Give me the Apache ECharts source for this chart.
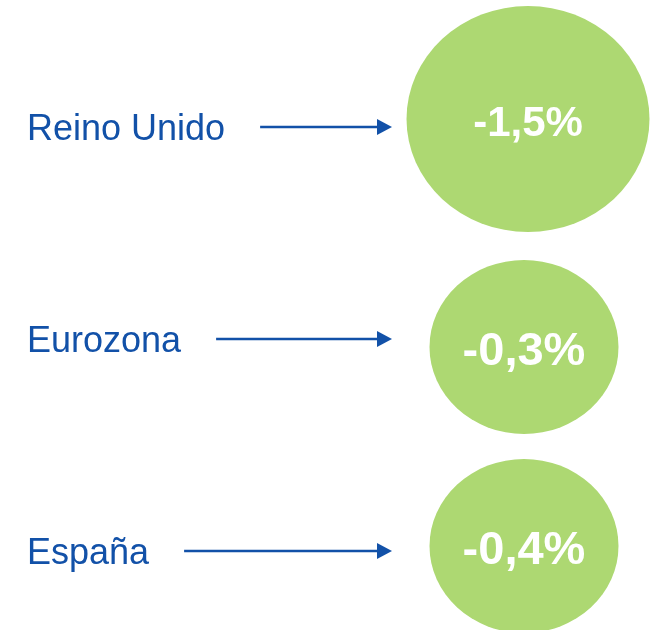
<!DOCTYPE html>
<html>
<head>
<meta charset="utf-8">
<script src="https://cdn.jsdelivr.net/npm/echarts@6/dist/echarts.min.js"></script>
<style>
  html, body { margin: 0; padding: 0; background: #fff; }
  #main { width: 650px; height: 630px; }
</style>
</head>
<body>
<div id="main"></div>
<script>
// regions and their change (%)
var regions = ['Reino Unido', 'Eurozona', 'España'];
var changes = [-1.5, -0.3, -0.4];

var BLUE = '#1251a8';
var GREEN = '#add872';
var FONT_FAMILY = '"Liberation Sans", Arial, sans-serif';
var LABEL_FONT = '36px ' + FONT_FAMILY;

// bubble look per row (size, nudge from the row line, font size)
var bubbleSize = [[243, 226], [189, 174], [189, 174]];
var bubbleNudge = [[2, -8], [-2, 8], [-2, -5]];
var bubbleFont = [42, 47, 47];

function fmt(v) {
    return v.toFixed(1).replace('.', ',') + '%';
}

// text widths, so the arrows start just after the labels
var ctx = document.createElement('canvas').getContext('2d');
ctx.font = LABEL_FONT;

var myChart = echarts.init(document.getElementById('main'));

myChart.setOption({
    animation: false,
    grid: { left: 402, right: 0, top: 127, bottom: 79 },
    xAxis: { type: 'value', min: -1, max: 1, show: false },
    yAxis: {
        type: 'category',
        data: regions,
        inverse: true,
        boundaryGap: false,
        show: false
    },
    series: [
        {
            // region name + arrow to its bubble
            type: 'custom',
            silent: true,
            data: regions.map(function (r, i) { return [0, i]; }),
            renderItem: function (params, api) {
                var y = api.coord([0, api.value(1)])[1];
                var tip = params.coordSys.x - 10;
                var name = regions[params.dataIndex];
                var x0 = 27 + ctx.measureText(name).width + 35;
                return {
                    type: 'group',
                    children: [
                        {
                            type: 'text',
                            x: 27,
                            y: y + 3,
                            style: {
                                text: name,
                                font: LABEL_FONT,
                                fill: BLUE,
                                align: 'left',
                                verticalAlign: 'middle'
                            }
                        },
                        {
                            type: 'line',
                            shape: { x1: x0, y1: y, x2: tip - 12, y2: y },
                            style: { stroke: BLUE, lineWidth: 2.5 }
                        },
                        {
                            type: 'polygon',
                            shape: { points: [[tip - 15, y - 8], [tip, y], [tip - 15, y + 8]] },
                            style: { fill: BLUE }
                        }
                    ]
                };
            }
        },
        {
            type: 'scatter',
            clip: false,
            silent: true,
            symbol: 'circle',
            data: changes.map(function (v, i) {
                return {
                    value: [0, i, v],
                    symbolSize: bubbleSize[i],
                    symbolOffset: bubbleNudge[i],
                    label: { fontSize: bubbleFont[i] }
                };
            }),
            itemStyle: { color: GREEN, opacity: 1 },
            label: {
                show: true,
                position: 'inside',
                offset: [0, 5],
                color: '#fff',
                fontWeight: 'bold',
                fontFamily: FONT_FAMILY,
                formatter: function (p) { return fmt(p.value[2]); }
            }
        }
    ]
});
</script>
</body>
</html>
